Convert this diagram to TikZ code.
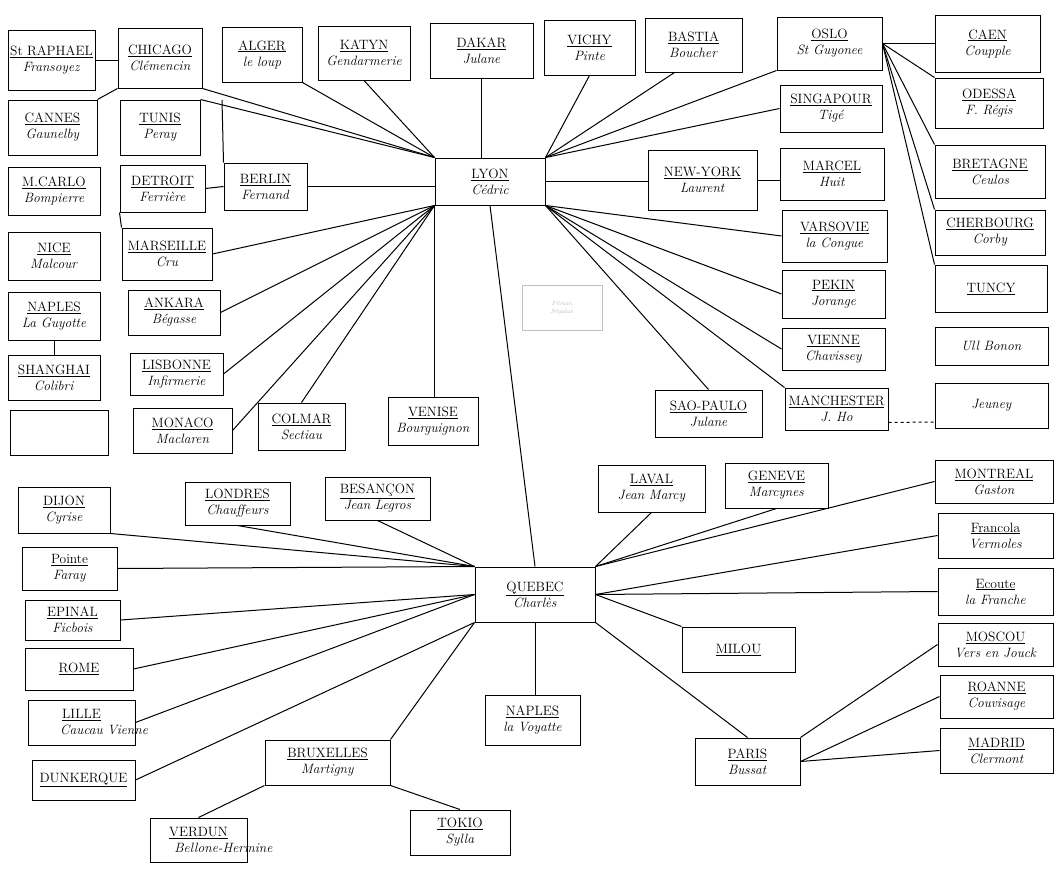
\documentclass[tikz,border=0pt]{standalone}
\usepackage{fontspec}
\tikzset{
  bx/.style={draw, line width=1pt, inner sep=1pt, align=center, font=\fontsize{13.5}{16}\selectfont},
  link/.style={line width=1pt},
  faint/.style={draw=black!25, line width=0.5pt}
}
\newcommand\bx[7]{\node[bx, minimum width={#4-#2}, minimum height={#5-#3}] (#1) at ({(#2+#4)/2},{(#3+#5)/2}) {\underline{#6}\\\textit{#7}};}
\newcommand\bxa[6]{\node[bx, minimum width={#4-#2}, minimum height={#5-#3}] (#1) at ({(#2+#4)/2},{(#3+#5)/2}) {#6};}
\begin{document}
\begin{tikzpicture}[x=1pt,y=-1pt]
\useasboundingbox (0,0) rectangle (1061,870);
% top row
\bx{raphael}{8}{30}{95}{90}{St RAPHAEL}{Fransoyez}
\bx{chicago}{118}{28}{202}{88}{CHICAGO}{Clémencin}
\bx{alger}{222}{27}{302}{82}{ALGER}{le loup}
\bx{katyn}{318}{26}{410}{80}{KATYN}{Gendarmerie}
\bx{dakar}{430}{23}{533}{78}{DAKAR}{Julane}
\bx{vichy}{544}{20}{635}{75}{VICHY}{Pinte}
\bx{bastia}{645}{18}{742}{72}{BASTIA}{Boucher}
\bx{oslo}{777}{17}{882}{70}{OSLO}{St Guyonee}
\bx{caen}{935}{15}{1040}{72}{CAEN}{Coupple}
\bx{odessa}{935}{78}{1043}{128}{ODESSA}{F.~Régis}
\bx{singapour}{780}{85}{882}{132}{SINGAPOUR}{Tigé}
\bx{bretagne}{935}{145}{1045}{198}{BRETAGNE}{Ceulos}
\bx{marcel}{780}{148}{884}{200}{MARCEL}{Huit}
\bx{newyork}{648}{150}{757}{210}{NEW-YORK}{Laurent}
\bx{cherbourg}{935}{210}{1045}{255}{CHERBOURG}{Corby}
\bx{varsovie}{782}{210}{887}{262}{VARSOVIE}{la Congue}
\bxa{tuncy}{935}{265}{1047}{312}{\underline{TUNCY}}
\bx{pekin}{782}{270}{885}{318}{PEKIN}{Jorange}
\bx{vienne}{782}{328}{885}{370}{VIENNE}{Chavissey}
\bxa{ulbonon}{935}{327}{1048}{365}{\textit{Ull Bonon}}
\bx{manchester}{785}{388}{888}{430}{MANCHESTER}{J.~Ho}
\bxa{jeuney}{935}{383}{1048}{428}{\textit{Jeuney}}
\bx{saopaulo}{655}{390}{762}{437}{SAO-PAULO}{Julane}
% left block
\bx{cannes}{8}{100}{97}{155}{CANNES}{Gaunelby}
\bx{tunis}{120}{100}{200}{155}{TUNIS}{Peray}
\bx{mcarlo}{8}{167}{100}{215}{M.CARLO}{Bompierre}
\bx{detroit}{120}{165}{205}{212}{DETROIT}{Ferrière}
\bx{berlin}{224}{163}{307}{210}{BERLIN}{Fernand}
\bx{nice}{8}{232}{100}{280}{NICE}{Malcour}
\bx{marseille}{122}{228}{212}{280}{MARSEILLE}{Cru}
\bx{naples}{8}{292}{100}{340}{NAPLES}{La Guyotte}
\bx{ankara}{128}{290}{220}{335}{ANKARA}{Bégasse}
\bx{shanghai}{8}{355}{100}{400}{SHANGHAI}{Colibri}
\bx{lisbonne}{130}{353}{223}{395}{LISBONNE}{Infirmerie}
\bxa{emptybox}{10}{410}{108}{455}{}
\bx{monaco}{133}{408}{232}{453}{MONACO}{Maclaren}
\bx{colmar}{258}{403}{345}{450}{COLMAR}{Sectiau}
\bx{venise}{388}{397}{478}{445}{VENISE}{Bourguignon}
% hubs
\bx{lyon}{435}{158}{545}{205}{LYON}{Cédric}
\bx{quebec}{475}{567}{595}{622}{QUEBEC}{Charlès}
% lower block
\bx{dijon}{18}{487}{110}{533}{DIJON}{Cyrise}
\bx{londres}{185}{482}{290}{525}{LONDRES}{Chauffeurs}
\bx{besancon}{325}{477}{430}{520}{BESANÇON}{Jean Legros}
\bx{pointe}{22}{547}{117}{590}{Pointe}{Faray}
\bx{epinal}{25}{600}{120}{640}{EPINAL}{Ficbois}
\bxa{rome}{25}{648}{133}{690}{\underline{ROME}}
\bx{lille}{28}{700}{135}{745}{LILLE}{Caucau\rlap{ Vienne}}
\bxa{dunkerque}{32}{760}{135}{800}{\underline{DUNKERQUE}}
\bx{bruxelles}{265}{740}{390}{785}{BRUXELLES}{Martigny}
\bx{verdun}{150}{818}{247}{862}{VERDUN}{Bellone-\rlap{Hermine}}
\bx{tokio}{410}{810}{510}{855}{TOKIO}{Sylla}
\bx{naples2}{485}{695}{580}{745}{NAPLES}{la Voyatte}
\bx{paris}{695}{738}{800}{785}{PARIS}{Bussat}
\bxa{milou}{682}{627}{795}{672}{\underline{MILOU}}
\bx{laval}{598}{465}{705}{512}{LAVAL}{Jean Marcy}
\bx{geneve}{725}{463}{828}{508}{GENEVE}{Marcynes}
\bx{montreal}{935}{460}{1053}{503}{MONTREAL}{Gaston}
\bx{francola}{938}{513}{1053}{558}{Francola}{Vermoles}
\bx{ecoute}{938}{568}{1053}{615}{Ecoute}{la Franche}
\bx{moscou}{938}{623}{1053}{666}{MOSCOU}{Vers en Jouck}
\bx{roanne}{940}{675}{1053}{718}{ROANNE}{Couvisage}
\bx{madrid}{940}{728}{1053}{773}{MADRID}{Clermont}
% faint sketch
\node[faint, minimum width=80, minimum height=45, font=\fontsize{6}{8}\selectfont\itshape, text=black!30, align=center] (sketch) at (562,308) {Pérain\\Ségalas};
% links of the upper-left block
\coordinate (j1) at (222,100);
\draw[link] (chicago.west |- raphael.east) -- (raphael.east);
\draw[link] (cannes.north east) -- (chicago.south west);
\draw[link] (j1) -- (berlin.north west);
\draw[link] (detroit.east) -- (berlin.west);
\draw[link] (detroit.south west) -- (marseille.north west);
\draw[link] (naples.south) -- (shanghai.north);
% LYON fan
\draw[link] (chicago.south east) -- (lyon.north west);
\draw[link] (tunis.north east) -- (lyon.north west);
\draw[link] (alger.south east) -- (lyon.north west);
\draw[link] (katyn.south) -- (lyon.north west);
\draw[link] (berlin.east) -- (berlin.east -| lyon.west);
\draw[link] (dakar.south) -- (dakar.south |- lyon.north);
\draw[link] (vichy.south) -- (lyon.north east);
\draw[link] (bastia.south west) ++(30,0) -- (lyon.north east);
\draw[link] (oslo.south west) -- (lyon.north east);
\draw[link] (singapour.west) -- (lyon.north east);
\draw[link] (lyon.east) -- (lyon.east -| newyork.west);
\draw[link] (newyork.east) -- (newyork.east -| marcel.west);
\draw[link] (lyon.south west) -- (marseille.east);
\draw[link] (lyon.south west) -- (ankara.east);
\draw[link] (lyon.south west) -- (lisbonne.east);
\draw[link] (lyon.south west) -- (monaco.east);
\draw[link] (lyon.south west) -- (colmar.north);
\draw[link] (lyon.south west) -- (lyon.south west |- venise.north);
\draw[link] (lyon.south) -- (quebec.north);
\draw[link] (lyon.south east) -- (varsovie.west);
\draw[link] (lyon.south east) -- (pekin.west);
\draw[link] (lyon.south east) -- (vienne.west);
\draw[link] (lyon.south east) -- (manchester.north west);
\draw[link] (lyon.south east) -- (saopaulo.north);
\draw[link, dashed] (manchester.south east) ++(0,-8) -- (jeuney.west |- 0,422);
% OSLO fan
\draw[link] (oslo.east) -- (oslo.east -| caen.west);
\draw[link] (oslo.east) -- (odessa.north west);
\draw[link] (oslo.east) -- (bretagne.north west);
\draw[link] (oslo.east) -- (cherbourg.north west);
\draw[link] (oslo.east) -- (tuncy.north west);
% QUEBEC fan
\draw[link] (dijon.south east) -- (quebec.north west);
\draw[link] (pointe.east) -- (quebec.north west);
\draw[link] (londres.south) -- (quebec.north west);
\draw[link] (besancon.south) -- (quebec.north west);
\draw[link] (epinal.east) -- (quebec.west);
\draw[link] (rome.east) -- (quebec.west);
\draw[link] (lille.east) -- (quebec.west);
\draw[link] (dunkerque.east) -- (quebec.south west);
\draw[link] (bruxelles.north east) -- (quebec.south west);
\draw[link] (laval.south) -- (quebec.north east);
\draw[link] (geneve.south) -- (quebec.north east);
\draw[link] (montreal.west) -- (quebec.north east);
\draw[link] (francola.west) -- (quebec.east);
\draw[link] (ecoute.west) -- (quebec.east);
\draw[link] (quebec.east) -- (milou.north west);
\draw[link] (quebec.south) -- (quebec.south |- naples2.north);
\draw[link] (quebec.south east) -- (paris.north);
\draw[link] (bruxelles.south west) -- (verdun.north);
\draw[link] (bruxelles.south east) -- (tokio.north);
\draw[link] (paris.north east) -- (moscou.west);
\draw[link] (paris.east) -- (roanne.west);
\draw[link] (paris.east) -- (madrid.west);
\end{tikzpicture}
\end{document}
